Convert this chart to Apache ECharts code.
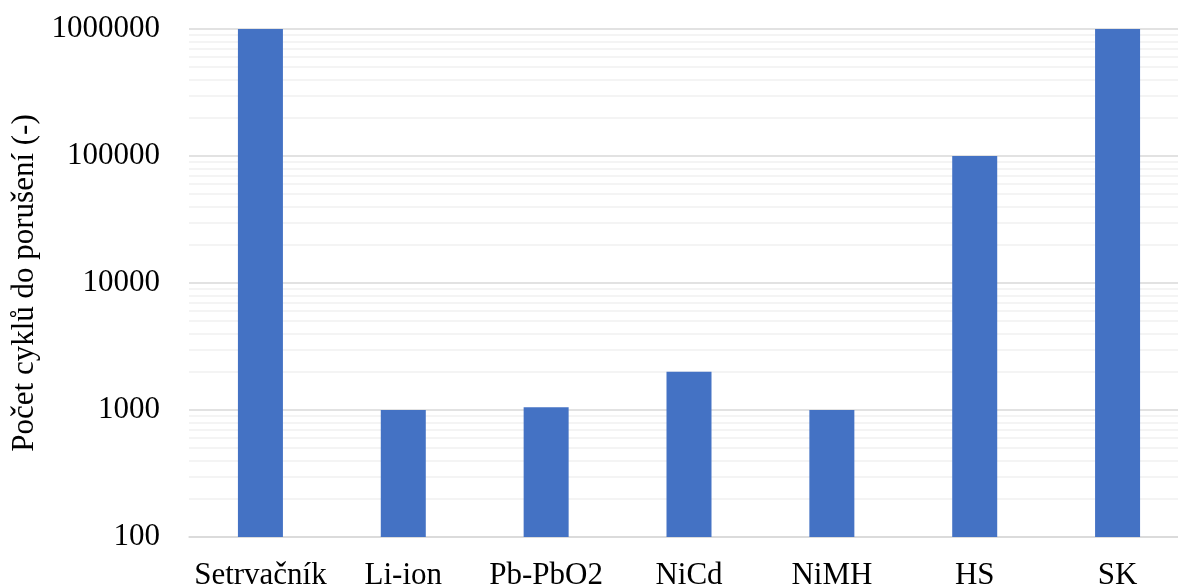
<!DOCTYPE html>
<html>
<head>
<meta charset="utf-8">
<script src="https://cdn.jsdelivr.net/npm/echarts@6/dist/echarts.min.js"></script>
<style>
html,body{margin:0;padding:0;background:#fff;}
#chart{width:1178px;height:587px;}
</style>
</head>
<body>
<div id="chart"></div>
<script>
const categories = ['Setrvačník', 'Li-ion', 'Pb-PbO2', 'NiCd', 'NiMH', 'HS', 'SK'];
const cycles = [1000000, 1000, 1050, 2000, 1000, 100000, 1000000];
const yMin = 100;
const yMax = 1000000;
const minorGridValues = [];
for (let d = 100; d < 1000000; d *= 10) {
  for (let m = 2; m <= 9; m++) minorGridValues.push(m * d);
}
const yTitle = 'Počet cyklů do porušení (-)';
const fontFamily = '"Liberation Serif", "Times New Roman", serif';

const chart = echarts.init(document.getElementById('chart'), null, {renderer: 'canvas'});
chart.setOption({
  animation: false,
  backgroundColor: '#ffffff',
  grid: {left: 189, width: 1000, top: 29, bottom: 50, containLabel: false, outerBoundsMode: 'none'},
  xAxis: {
    type: 'category',
    data: categories,
    axisTick: {show: false},
    axisLine: {lineStyle: {color: '#d9d9d9', width: 1.5}},
    axisLabel: {color: '#000', fontFamily: fontFamily, fontSize: 31, margin: 23, interval: 0}
  },
  yAxis: {
    type: 'log',
    logBase: 10,
    min: yMin,
    max: yMax,
    name: yTitle,
    nameLocation: 'middle',
    nameGap: 147,
    nameRotate: 90,
    nameTextStyle: {color: '#000', fontFamily: fontFamily, fontSize: 31},
    axisLine: {show: false},
    axisTick: {show: false},
    axisLabel: {
      color: '#000', fontFamily: fontFamily, fontSize: 31, margin: 29,
      formatter: v => String(Math.round(v))
    },
    splitLine: {show: true, lineStyle: {color: '#d9d9d9', width: 1.5}}
  },
  series: [{
    type: 'bar',
    data: cycles,
    barWidth: '31.5%',
    z: 2,
    itemStyle: {color: '#4472C4'},
    silent: true,
    markLine: {
      silent: true,
      z: 1,
      symbol: ['none', 'none'],
      label: {show: false},
      lineStyle: {color: '#f0f0f0', width: 1.5, type: 'solid'},
      emphasis: {disabled: true},
      data: minorGridValues.map(v => ({yAxis: v}))
    }
  }]
});
</script>
</body>
</html>
